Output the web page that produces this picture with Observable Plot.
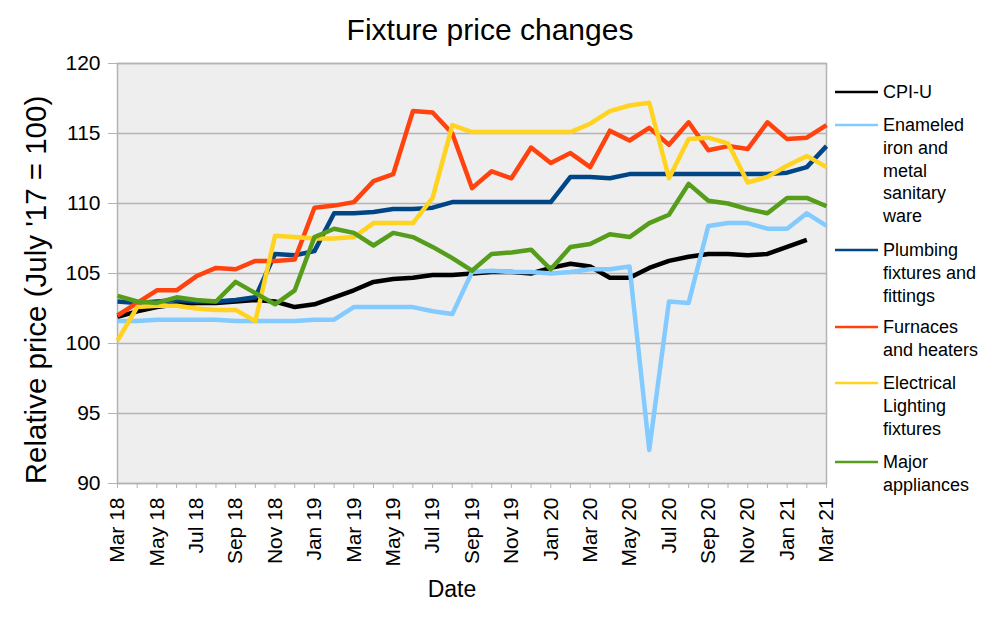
<!DOCTYPE html>
<html><head><meta charset="utf-8">
<script src="https://cdn.jsdelivr.net/npm/d3@7"></script>
<script src="https://cdn.jsdelivr.net/npm/@observablehq/plot@0.6"></script>
<style>body{margin:0;background:#fff;font-family:"Liberation Sans",Arial,sans-serif}</style>
</head><body><div id="chart"></div>
<script>
const months = ["Mar 18","Apr 18","May 18","Jun 18","Jul 18","Aug 18","Sep 18","Oct 18","Nov 18","Dec 18",
  "Jan 19","Feb 19","Mar 19","Apr 19","May 19","Jun 19","Jul 19","Aug 19","Sep 19","Oct 19","Nov 19","Dec 19",
  "Jan 20","Feb 20","Mar 20","Apr 20","May 20","Jun 20","Jul 20","Aug 20","Sep 20","Oct 20","Nov 20","Dec 20",
  "Jan 21","Feb 21","Mar 21"];
const tickLabels = ["Mar 18","May 18","Jul 18","Sep 18","Nov 18","Jan 19","Mar 19","May 19","Jul 19","Sep 19",
  "Nov 19","Jan 20","Mar 20","May 20","Jul 20","Sep 20","Nov 20","Jan 21","Mar 21"];
const yTicks = [90, 95, 100, 105, 110, 115, 120];

const seriesNames = ["CPI-U","Enameled iron and metal sanitary ware","Plumbing fixtures and fittings",
  "Furnaces and heaters","Electrical Lighting fixtures","Major appliances"];
const legendLines = [["CPI-U"],["Enameled","iron and","metal","sanitary","ware"],["Plumbing","fixtures and","fittings"],
  ["Furnaces","and heaters"],["Electrical","Lighting","fixtures"],["Major","appliances"]];
const colors = ["#000000","#83caff","#004586","#ff420e","#ffd320","#579d1c"];

const cpiU = [101.9,102.3,102.6,102.8,102.9,102.9,103.0,103.1,103.0,102.6,102.8,103.3,103.8,104.4,104.6,104.7,104.9,104.9,
  105.0,105.1,105.1,105.0,105.4,105.7,105.5,104.7,104.7,105.4,105.9,106.2,106.4,106.4,106.3,106.4,106.9,107.4,null];
const enameled = [101.6,101.6,101.7,101.7,101.7,101.7,101.6,101.6,101.6,101.6,101.7,101.7,102.6,102.6,102.6,102.6,102.3,102.1,
  105.1,105.2,105.1,105.1,105.0,105.1,105.3,105.3,105.5,92.4,103.0,102.9,108.4,108.6,108.6,108.2,108.2,109.3,108.4];
const plumbing = [103.0,102.9,103.0,103.1,103.0,103.0,103.1,103.3,106.4,106.3,106.6,109.3,109.3,109.4,109.6,109.6,109.7,110.1,
  110.1,110.1,110.1,110.1,110.1,111.9,111.9,111.8,112.1,112.1,112.1,112.1,112.1,112.1,112.1,112.1,112.2,112.6,114.1];
const furnaces = [102.0,102.9,103.8,103.8,104.8,105.4,105.3,105.9,105.9,106.0,109.7,109.85,110.1,111.6,112.1,116.6,116.5,115.0,
  111.1,112.3,111.8,114.0,112.9,113.6,112.6,115.2,114.5,115.4,114.2,115.8,113.8,114.1,113.9,115.8,114.6,114.7,115.6];
const electrical = [100.2,102.6,102.7,102.7,102.5,102.4,102.4,101.6,107.7,107.6,107.5,107.5,107.6,108.6,108.6,108.6,110.4,115.6,
  115.1,115.1,115.1,115.1,115.1,115.1,115.7,116.6,117.0,117.2,111.8,114.6,114.7,114.3,111.5,111.9,112.7,113.4,112.6];
const major = [103.4,103.0,102.9,103.3,103.1,103.0,104.4,103.6,102.8,103.8,107.6,108.2,107.9,107.0,107.9,107.6,106.9,106.1,
  105.2,106.4,106.5,106.7,105.3,106.9,107.1,107.8,107.6,108.6,109.2,111.4,110.2,110.0,109.6,109.3,110.4,110.4,109.8];

const allSeries = [cpiU, enameled, plumbing, furnaces, electrical, major];
const rows = allSeries.flatMap((vals, s) => vals.map((v, i) => ({series: seriesNames[s], idx: i, value: v})));
const monthIdx = months.map((m, i) => i);
const labelIdx = tickLabels.map(l => months.indexOf(l));

const font = '"Liberation Sans", Arial, sans-serif';
const plot = Plot.plot({
  width: 999, height: 619,
  marginTop: 63, marginRight: 173, marginBottom: 136, marginLeft: 117,
  style: {fontFamily: font, background: "white", color: "black", overflow: "visible"},
  x: {type: "linear", domain: [0, months.length - 1]},
  y: {domain: [90, 120]},
  color: {domain: seriesNames, range: colors},
  marks: [
    Plot.frame({fill: "#eeeeee", stroke: "#b3b3b3", strokeWidth: 1.5}),
    Plot.gridY(yTicks, {stroke: "#b3b3b3", strokeOpacity: 1, strokeWidth: 1.5}),
    Plot.axisY(yTicks, {tickSize: 9, tickPadding: 8, fontSize: 21, stroke: "#b3b3b3", fill: "black", label: null}),
    Plot.axisX(monthIdx, {tickSize: 5, tickFormat: () => "", stroke: "#b3b3b3", label: null}),
    Plot.axisX(labelIdx, {tickSize: 0, tickPadding: 14, tickRotate: -90, fontSize: 21, fill: "black", label: null,
      tickFormat: i => months[i]}),
    Plot.lineY(rows, {x: "idx", y: "value", z: "series", stroke: "series", strokeWidth: 4.5,
      strokeLinejoin: "round", strokeLinecap: "butt"})
  ]
});
document.getElementById("chart").appendChild(plot);

const svg = d3.select(plot);
svg.append("text").attr("x", 490).attr("y", 40).attr("text-anchor", "middle")
  .attr("font-size", 30).attr("font-family", font).attr("fill", "black").text("Fixture price changes");
svg.append("text").attr("transform", "translate(46,290) rotate(-90)").attr("text-anchor", "middle")
  .attr("font-size", 29.5).attr("font-family", font).attr("fill", "black").text("Relative price (July '17 = 100)");
svg.append("text").attr("x", 452).attr("y", 597).attr("text-anchor", "middle")
  .attr("font-size", 23).attr("font-family", font).attr("fill", "black").text("Date");

const legendCenters = [92, 125, 250, 327, 383, 462];
const lineStep = 22.7;
const lg = svg.append("g").attr("font-family", font).attr("font-size", 18).attr("fill", "black")
  .attr("text-anchor", "start");
legendLines.forEach((lines, i) => {
  const cy = legendCenters[i];
  lg.append("line").attr("x1", 835).attr("x2", 878).attr("y1", cy).attr("y2", cy)
    .attr("stroke", colors[i]).attr("stroke-width", 2.5);
  lines.forEach((t, j) => {
    lg.append("text").attr("x", 883).attr("y", cy + j * lineStep).attr("dy", "0.35em")
      .attr("text-anchor", "start").text(t);
  });
});
</script></body></html>
